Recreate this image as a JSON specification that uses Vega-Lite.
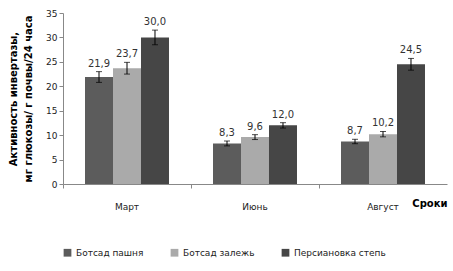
{
  "$schema": "https://vega.github.io/schema/vega-lite/v6.json",
  "width": 453,
  "height": 271,
  "autosize": {"type": "fit", "contains": "padding"},
  "padding": {"left": 8, "right": 6, "top": 9, "bottom": 13},
  "background": "white",
  "config": {
    "view": {"stroke": null},
    "font": "DejaVu Sans",
    "locale": {"number": {"decimal": ",", "thousands": " ", "grouping": [3], "currency": ["", ""]}},
    "axisY": {
      "labelOverlap": false, "tickCount": 7, "labelFontSize": 9, "labelColor": "#222",
      "grid": false, "domainColor": "#888", "tickColor": "#888", "tickSize": 4,
      "titleFontWeight": "bold", "titleFontSize": 10, "titleColor": "#000", "titlePadding": 12, "titleLineHeight": 15
    }
  },
  "data": {
    "values": [
      {"month": "Март", "site": "Ботсад пашня", "value": 21.9, "lo": 20.8, "hi": 23.0},
      {"month": "Март", "site": "Ботсад залежь", "value": 23.7, "lo": 22.5, "hi": 24.9},
      {"month": "Март", "site": "Персиановка степь", "value": 30.0, "lo": 28.5, "hi": 31.5},
      {"month": "Июнь", "site": "Ботсад пашня", "value": 8.3, "lo": 7.8, "hi": 8.8},
      {"month": "Июнь", "site": "Ботсад залежь", "value": 9.6, "lo": 9.1, "hi": 10.1},
      {"month": "Июнь", "site": "Персиановка степь", "value": 12.0, "lo": 11.45, "hi": 12.55},
      {"month": "Август", "site": "Ботсад пашня", "value": 8.7, "lo": 8.25, "hi": 9.15},
      {"month": "Август", "site": "Ботсад залежь", "value": 10.2, "lo": 9.65, "hi": 10.75},
      {"month": "Август", "site": "Персиановка степь", "value": 24.5, "lo": 23.3, "hi": 25.7}
    ]
  },
  "encoding": {
    "x": {
      "field": "month", "type": "nominal", "sort": ["Март", "Июнь", "Август"],
      "scale": {"paddingInner": 0, "paddingOuter": 0},
      "axis": {
        "title": "Сроки", "titleFontWeight": "bold", "titleFontSize": 10, "titleColor": "#000",
        "titleAnchor": "end", "titleAlign": "right", "titleX": 384, "titleY": 14,
        "labelAngle": 0, "labelFontSize": 9, "labelColor": "#222", "labelPadding": 14,
        "bandPosition": 0, "domainColor": "#888", "tickColor": "#888", "tickSize": 4, "grid": false
      }
    },
    "xOffset": {
      "field": "site", "type": "nominal",
      "sort": ["Ботсад пашня", "Ботсад залежь", "Персиановка степь"],
      "scale": {"paddingInner": 0, "paddingOuter": 0.786}
    }
  },
  "layer": [
    {
      "mark": {"type": "bar"},
      "encoding": {
        "y": {
          "field": "value", "type": "quantitative",
          "scale": {"domain": [0, 35]},
          "axis": {"title": ["Активность  инвертазы,", "мг глюкозы/ г почвы/24 часа"]}
        },
        "color": {
          "field": "site", "type": "nominal",
          "sort": ["Ботсад пашня", "Ботсад залежь", "Персиановка степь"],
          "scale": {"domain": ["Ботсад пашня", "Ботсад залежь", "Персиановка степь"], "range": ["#5c5c5c", "#aaaaaa", "#464646"]},
          "legend": {
            "orient": "bottom", "direction": "horizontal", "title": null,
            "symbolType": "square", "symbolSize": 60, "symbolStrokeWidth": 0,
            "labelFontSize": 9, "labelColor": "#222", "columnPadding": 26, "offset": 37
          }
        }
      }
    },
    {
      "mark": {"type": "rule", "color": "#000", "strokeWidth": 1},
      "encoding": {"y": {"field": "lo", "type": "quantitative"}, "y2": {"field": "hi"}}
    },
    {
      "mark": {"type": "tick", "color": "#000", "size": 6, "thickness": 1},
      "encoding": {"y": {"field": "lo", "type": "quantitative"}}
    },
    {
      "mark": {"type": "tick", "color": "#000", "size": 6, "thickness": 1},
      "encoding": {"y": {"field": "hi", "type": "quantitative"}}
    },
    {
      "mark": {"type": "text", "dy": -8, "fontSize": 10, "color": "#333"},
      "encoding": {
        "y": {"field": "hi", "type": "quantitative"},
        "text": {"field": "value", "type": "quantitative", "format": ".1f"}
      }
    }
  ]
}
